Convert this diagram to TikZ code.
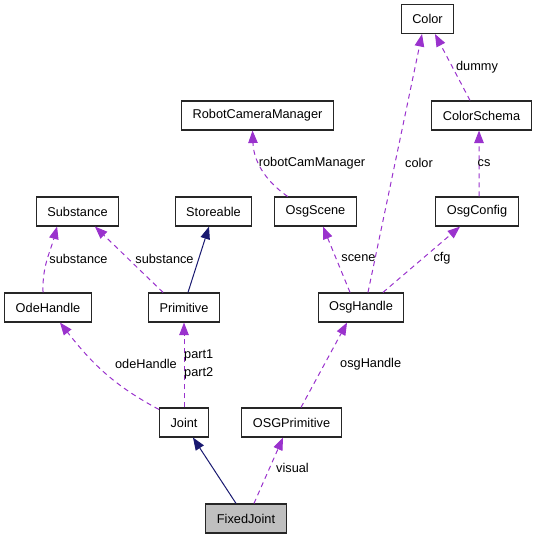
\documentclass[tikz,border=0pt]{standalone}
\usepackage{fontspec}
\setmainfont{Liberation Sans}
\usetikzlibrary{arrows.meta}

\definecolor{orchid}{HTML}{9A32CD}
\definecolor{navyblue}{HTML}{191970}

\begin{document}
\begin{tikzpicture}[x=1bp, y=-1bp,
    cls/.style={draw=black!85, line width=1.1bp, minimum height=29bp,
      inner xsep=11bp, font=\fontsize{12.8}{15}\selectfont},
    inherit/.style={draw=navyblue, line width=1bp,
      -{Triangle[length=12.5bp, width=9.5bp, fill=navyblue]}},
    member/.style={draw=orchid, line width=1bp, dash pattern=on 5bp off 4bp,
      -{Triangle[length=12.5bp, width=9.5bp, fill=orchid]}},
    lbl/.style={inner sep=0pt, font=\fontsize{12.8}{15}\selectfont}]
    \useasboundingbox (0, 0) rectangle (536, 539);

    % Klasy
    \node[cls] (color) at (427.5, 19) {Color};

    \node[cls] (schema) at (481.5, 115.5) {ColorSchema};

    \node[cls] (rcm) at (257.5, 115.5) {RobotCameraManager};

    \node[cls] (sub) at (77.5, 211.5) {Substance};

    \node[cls] (store) at (213.5, 211.5) {Storeable};

    \node[cls] (scene) at (315.5, 211.5) {OsgScene};

    \node[cls] (config) at (477, 211.5) {OsgConfig};

    \node[cls] (ode) at (48, 307.5) {OdeHandle};

    \node[cls] (prim) at (184, 307.5) {Primitive};

    \node[cls] (osgh) at (361, 307.5) {OsgHandle};

    \node[cls] (joint) at (184, 422.5) {Joint};

    \node[cls] (osgp) at (291.5, 422.5) {OSGPrimitive};

    \node[cls, fill=black!25] (fixed) at (246, 518.5) {FixedJoint};



    % Dziedziczenie
    \draw[inherit] ([xshift=-10]fixed.north) -- ([xshift=9]joint.south);

    \draw[inherit] ([xshift=4]prim.north) -- ([xshift=-4.5]store.south);



    % Pola
    \draw[member] ([xshift=8]fixed.north) -- ([xshift=-8.5]osgp.south);

    \draw[member] ([xshift=9.5]osgp.north) -- ([xshift=-14]osgh.south);

    \draw[member] ([yshift=-2]joint.north west) to[out=152, in=-52] ([xshift=12]ode.south);

    \draw[member] (joint.north) -- (prim.south);

    \draw[member] ([xshift=-5]ode.north) to[out=92, in=-105] ([xshift=-20.5]sub.south);

    \draw[member] ([xshift=-21]prim.north) -- ([xshift=17.5]sub.south);

    \draw[member] ([xshift=-11]osgh.north) -- ([xshift=7.5]scene.south);

    \draw[member] ([xshift=7]osgh.north) -- ([xshift=-5.5]color.south);

    \draw[member] ([xshift=22]osgh.north) -- ([xshift=-17]config.south);

    \draw[member] ([xshift=-28]scene.north) to[out=145, in=-88] ([xshift=-5]rcm.south);

    \draw[member] ([xshift=2]config.north) -- ([xshift=-2.5]schema.south);

    \draw[member] ([xshift=-11.5]schema.north) -- ([xshift=7.5]color.south);



    % Oznaczenia
    \node[lbl, anchor=west] (l-visual) at (276, 468) {visual};

    \node[lbl, anchor=west] (l-osgh) at (340, 364) {osgHandle};

    \node[lbl, anchor=east] (l-ode) at (177, 364) {odeHandle};

    \node[lbl, anchor=west] (l-part1) at (184, 355) {part1};

    \node[lbl, anchor=west] (l-part2) at (184, 373) {part2};

    \node[lbl] (l-sub1) at (78.5, 258.5) {substance};

    \node[lbl] (l-sub2) at (164.5, 258.5) {substance};

    \node[lbl] (l-scene) at (358.5, 258.5) {scene};

    \node[lbl] (l-cfg) at (442, 258.5) {cfg};

    \node[lbl] (l-color) at (419, 163) {color};

    \node[lbl] (l-rcm) at (312, 163) {robotCamManager};

    \node[lbl] (l-cs) at (484, 163) {cs};

    \node[lbl] (l-dummy) at (477, 67) {dummy};
\end{tikzpicture}
\end{document}
